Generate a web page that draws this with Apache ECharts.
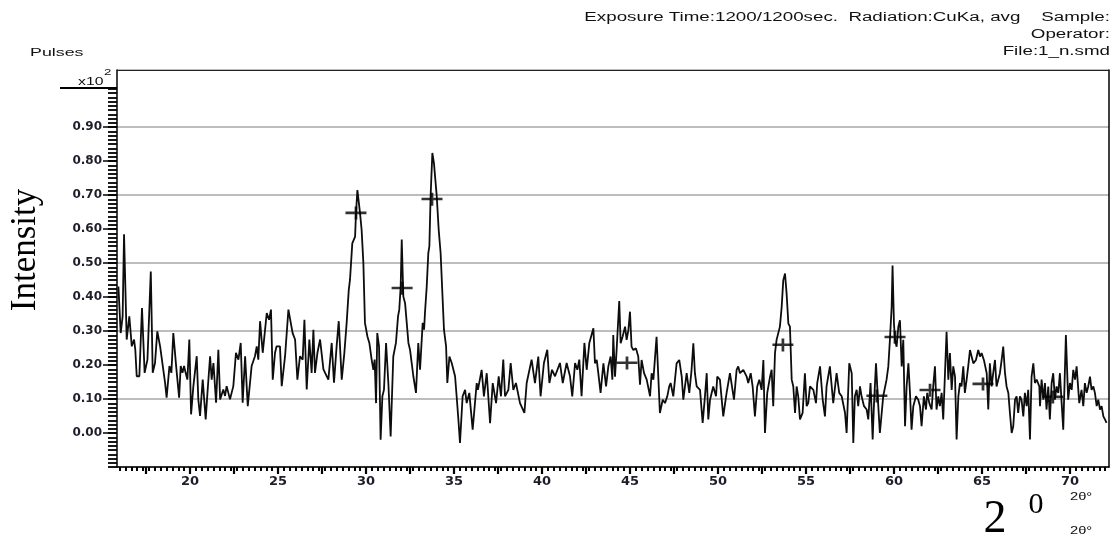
<!DOCTYPE html>
<html><head><meta charset="utf-8">
<script src="https://cdn.jsdelivr.net/npm/echarts@6/dist/echarts.min.js"></script>
<style>html,body{margin:0;padding:0;background:#fff}#c{width:1113px;height:538px}</style>
</head><body><div id="c"></div>
<script>
// 2θ positions (degrees) of the measured trace
const twoTheta = [
15.93,16.06,16.17,16.25,16.40,16.55,16.69,16.82,16.89,16.97,17.12,17.27,17.42,17.58,17.77,17.88,18.01,18.14,18.30,18.58,
18.67,18.83,18.94,19.05,19.21,19.38,19.47,19.57,19.66,19.75,19.85,19.96,20.06,20.19,20.38,20.47,20.57,20.72,20.89,20.99,
21.14,21.23,21.33,21.48,21.61,21.71,21.89,21.99,22.08,22.27,22.46,22.61,22.75,22.88,22.99,23.13,23.28,23.50,23.69,23.79,
23.88,23.98,24.13,24.36,24.49,24.60,24.70,24.83,24.92,25.11,25.21,25.40,25.59,25.83,25.97,26.10,26.25,26.40,26.50,26.63,
26.78,26.91,27.01,27.10,27.24,27.39,27.58,27.86,28.05,28.18,28.33,28.45,28.62,28.77,28.90,29.02,29.09,29.22,29.38,29.43,
29.51,29.66,29.75,29.85,29.94,30.08,30.19,30.32,30.42,30.49,30.57,30.64,30.74,30.83,30.93,31.02,31.14,31.27,31.40,31.55,
31.70,31.82,31.89,31.97,32.03,32.12,32.22,32.41,32.50,32.69,32.84,32.97,33.07,33.22,33.30,33.35,33.45,33.54,33.60,33.67,
33.77,33.86,34.02,34.13,34.24,34.43,34.55,34.62,34.74,34.87,35.06,35.15,35.25,35.34,35.49,35.63,35.72,35.87,36.06,36.29,
36.36,36.57,36.70,36.86,37.05,37.20,37.39,37.54,37.67,37.80,37.90,38.09,38.22,38.37,38.52,38.75,39.00,39.13,39.41,39.60,
39.79,39.92,40.11,40.30,40.42,40.57,40.74,41.02,41.18,41.40,41.59,41.72,41.88,42.01,42.12,42.25,42.41,42.54,42.69,42.92,
43.01,43.11,43.20,43.33,43.49,43.64,43.77,43.90,44.00,44.05,44.15,44.24,44.39,44.47,44.58,44.72,44.81,44.91,45.00,45.09,
45.19,45.34,45.47,45.57,45.66,45.80,45.95,46.14,46.23,46.33,46.51,46.70,46.86,46.99,47.12,47.23,47.31,47.46,47.65,47.80,
47.94,48.03,48.22,48.37,48.50,48.60,48.69,48.79,48.98,49.13,49.26,49.36,49.45,49.55,49.73,49.89,49.96,50.11,50.30,50.49,
50.68,50.78,50.91,51.06,51.15,51.25,51.44,51.63,51.72,51.86,51.97,52.10,52.23,52.35,52.48,52.58,52.67,52.80,52.96,53.05,
53.14,53.24,53.33,53.52,53.62,53.71,53.81,53.90,54.00,54.09,54.19,54.28,54.38,54.47,54.56,54.66,54.81,54.94,55.04,55.13,
55.23,55.42,55.57,55.64,55.80,55.95,56.08,56.17,56.36,56.55,56.74,56.89,57.03,57.22,57.31,57.46,57.60,57.69,57.78,57.88,
57.97,58.07,58.16,58.30,58.45,58.54,58.67,58.79,58.86,58.98,59.11,59.20,59.39,59.58,59.68,59.77,59.87,59.92,60.00,60.06,
60.15,60.25,60.34,60.44,60.53,60.63,60.72,60.82,60.91,61.00,61.10,61.25,61.38,61.48,61.57,61.70,61.82,61.89,62.01,62.14,
62.23,62.33,62.42,62.52,62.61,62.71,62.80,62.90,62.99,63.09,63.18,63.28,63.37,63.47,63.56,63.66,63.75,63.84,63.94,64.03,
64.13,64.22,64.32,64.51,64.66,64.79,64.89,64.98,65.11,65.27,65.36,65.45,65.55,65.64,65.74,65.83,66.02,66.12,66.21,66.31,
66.40,66.50,66.59,66.69,66.78,66.88,66.97,67.06,67.16,67.25,67.35,67.44,67.54,67.63,67.73,67.82,67.92,68.01,68.11,68.26,
68.30,68.39,68.49,68.58,68.67,68.77,68.86,68.96,69.05,69.15,69.24,69.34,69.43,69.53,69.62,69.77,69.90,70.00,70.10,70.19,
70.29,70.38,70.53,70.66,70.76,70.85,70.95,71.04,71.14,71.23,71.33,71.42,71.52,71.61,71.71,71.80,71.90,71.99,72.08
];
// intensity (x10^2 pulses) at each 2θ position
const intensity = [
0.431,0.294,0.343,0.585,0.275,0.343,0.255,0.275,0.245,0.167,0.167,0.368,0.177,0.216,0.475,0.177,0.206,0.299,0.255,0.148,
0.104,0.197,0.177,0.294,0.197,0.104,0.197,0.177,0.197,0.177,0.157,0.275,0.055,0.138,0.226,0.099,0.050,0.157,0.040,0.118,
0.226,0.157,0.206,0.089,0.245,0.099,0.128,0.109,0.138,0.099,0.138,0.236,0.216,0.265,0.089,0.226,0.079,0.197,0.226,0.255,
0.216,0.329,0.236,0.353,0.333,0.363,0.157,0.236,0.255,0.255,0.138,0.226,0.363,0.294,0.275,0.157,0.226,0.216,0.333,0.128,
0.275,0.177,0.304,0.177,0.236,0.275,0.187,0.157,0.265,0.148,0.255,0.329,0.157,0.236,0.324,0.421,0.451,0.558,0.578,0.646,
0.715,0.647,0.598,0.500,0.324,0.284,0.265,0.216,0.186,0.216,0.088,0.294,0.255,-0.020,0.108,0.127,0.265,0.147,-0.010,0.225,
0.265,0.343,0.363,0.431,0.569,0.402,0.382,0.265,0.245,0.167,0.118,0.265,0.186,0.324,0.304,0.353,0.431,0.529,0.549,0.696,
0.824,0.794,0.696,0.598,0.529,0.304,0.255,0.147,0.225,0.206,0.167,0.108,0.039,-0.029,0.108,0.127,0.088,0.118,0.010,0.147,
0.127,0.186,0.108,0.176,0.029,0.147,0.088,0.167,0.108,0.216,0.108,0.127,0.206,0.127,0.147,0.088,0.059,0.147,0.216,0.147,
0.225,0.108,0.206,0.245,0.147,0.186,0.167,0.206,0.147,0.206,0.167,0.108,0.206,0.186,0.216,0.108,0.265,0.186,0.265,0.308,
0.205,0.215,0.176,0.118,0.205,0.137,0.196,0.225,0.157,0.288,0.166,0.244,0.388,0.264,0.283,0.313,0.274,0.303,0.357,0.254,
0.244,0.249,0.225,0.142,0.215,0.176,0.157,0.108,0.176,0.157,0.283,0.059,0.098,0.088,0.108,0.137,0.147,0.108,0.205,0.215,
0.166,0.098,0.176,0.118,0.186,0.264,0.176,0.137,0.127,0.030,0.108,0.176,0.040,0.098,0.137,0.108,0.166,0.157,0.049,0.118,
0.176,0.176,0.098,0.186,0.196,0.176,0.186,0.166,0.147,0.176,0.137,0.049,0.137,0.157,0.127,0.215,0.000,0.118,0.166,0.186,
0.079,0.235,0.274,0.313,0.371,0.449,0.469,0.410,0.322,0.313,0.157,0.137,0.059,0.137,0.108,0.040,0.059,0.176,0.079,0.088,
0.137,0.127,0.088,0.147,0.196,0.098,0.049,0.137,0.196,0.088,0.176,0.118,0.108,0.059,0.000,0.205,0.176,-0.029,0.108,0.127,
0.079,0.137,0.108,0.079,0.069,0.040,0.147,-0.019,0.079,0.205,0.079,0.000,0.108,0.157,0.196,0.274,0.371,0.493,0.322,0.274,
0.254,0.313,0.332,0.196,0.274,0.020,0.137,0.205,0.118,0.010,0.079,0.108,0.098,0.079,0.020,0.108,0.069,0.118,0.088,0.069,
0.137,0.196,0.069,0.108,0.079,0.118,0.040,0.176,0.298,0.157,0.235,0.127,0.196,0.166,-0.019,0.108,0.147,0.137,0.196,0.118,
0.157,0.196,0.244,0.205,0.215,0.244,0.225,0.235,0.215,0.176,0.069,0.205,0.137,0.176,0.215,0.137,0.176,0.215,0.254,0.176,
0.137,0.118,0.059,0.000,0.020,0.098,0.108,0.059,0.108,0.098,0.049,0.118,0.079,0.127,-0.019,0.166,0.205,0.147,0.157,0.137,
0.079,0.157,0.098,0.147,0.069,0.137,0.040,0.147,0.176,0.098,0.137,0.118,0.176,0.088,0.010,0.288,0.098,0.147,0.127,0.186,
0.157,0.196,0.088,0.127,0.079,0.147,0.118,0.137,0.166,0.127,0.137,0.118,0.079,0.098,0.069,0.079,0.049,0.040,0.030
];
// identified peak markers (+)
const peakTwoTheta = [29.43, 32.05, 33.75, 44.83, 53.69, 59.03, 60.06, 62.05, 65.06, 69.03];
const peakIntensity = [0.647, 0.426, 0.688, 0.206, 0.259, 0.109, 0.282, 0.126, 0.144, 0.106];
// axis tick labels
const xLabelValues = [20, 25, 30, 35, 40, 45, 50, 55, 60, 65, 70];
const yLabelValues = [0.00, 0.10, 0.20, 0.30, 0.40, 0.50, 0.60, 0.70, 0.80, 0.90];

const X_MIN = 15.85, X_MAX = 72.22, Y_MIN = -0.1, Y_MAX = 1.068;

const xSmallTicks = [];
for (let k = 0; k <= 168; k++) xSmallTicks.push(+(16 + k / 3).toFixed(4));
const xMajorTicks = [];
for (let v = 17.5; v <= 72; v += 2.5) xMajorTicks.push(v);
const yLadder = [];
for (let k = 0; k <= 89; k++) yLadder.push(+(-0.1 + k * 0.0125).toFixed(4));

const lineData = twoTheta.map((t, i) => [t, intensity[i]]);
const peakData = peakTwoTheta.map((t, i) => [t, peakIntensity[i]]);

const labelFont = { fontFamily: 'DejaVu Sans', fontWeight: 'bold', color: '#1e1e2a' };
const chart = echarts.init(document.getElementById('c'), null, { renderer: 'canvas' });

function sText(x, y, text, size, align, sx, extra) {
  return Object.assign({
    type: 'text', x: x, y: y, scaleX: sx, z: 100,
    style: {
      text: text, font: size + 'px "Liberation Sans", Arial, sans-serif', fill: '#111',
      align: align, textAlign: align, verticalAlign: 'middle', textVerticalAlign: 'middle'
    }
  }, extra || {});
}

chart.setOption({
  animation: false,
  backgroundColor: '#fff',
  grid: { left: 117, right: 4, top: 70, bottom: 71, containLabel: false },
  xAxis: [
    {
      type: 'value', min: X_MIN, max: X_MAX, position: 'bottom',
      axisLine: { show: true, onZero: false, lineStyle: { color: '#000', width: 1.5 } },
      axisTick: { show: true, length: 4, customValues: xSmallTicks, lineStyle: { color: '#000', width: 2 } },
      axisLabel: Object.assign({ customValues: xLabelValues, fontSize: 13, margin: 8, formatter: v => String(Math.round(v)) }, labelFont),
      splitLine: { show: false }
    },
    {
      type: 'value', min: X_MIN, max: X_MAX, position: 'bottom',
      axisLine: { show: false, onZero: false },
      axisTick: { show: true, length: 7, customValues: xMajorTicks, lineStyle: { color: '#000', width: 2.2 } },
      axisLabel: { show: false }, splitLine: { show: false }
    },
    {
      type: 'value', min: X_MIN, max: X_MAX, position: 'top',
      axisLine: { show: true, onZero: false, lineStyle: { color: '#222', width: 1 } },
      axisTick: { show: false }, axisLabel: { show: false }, splitLine: { show: false }
    }
  ],
  yAxis: [
    {
      type: 'value', min: Y_MIN, max: Y_MAX, position: 'left',
      axisLine: { show: true, onZero: false, lineStyle: { color: '#000', width: 1.5 } },
      axisTick: { show: true, length: 14, customValues: yLabelValues, lineStyle: { color: '#000', width: 1.5 } },
      axisLabel: Object.assign({ customValues: yLabelValues, fontSize: 12, margin: 15, formatter: v => v.toFixed(2) }, labelFont),
      splitLine: { show: false }
    },
    {
      type: 'value', min: Y_MIN, max: Y_MAX, position: 'left',
      axisLine: { show: false, onZero: false },
      axisTick: { show: true, length: 9, customValues: yLadder, lineStyle: { color: '#000', width: 1.8 } },
      axisLabel: { show: false }, splitLine: { show: false }
    },
    {
      type: 'value', min: Y_MIN, max: Y_MAX, interval: 0.2, position: 'left',
      axisLine: { show: false }, axisTick: { show: false }, axisLabel: { show: false },
      splitLine: { show: true, lineStyle: { color: '#bdbdbd', width: 2 } }
    },
    {
      type: 'value', min: Y_MIN, max: Y_MAX, position: 'right',
      axisLine: { show: true, onZero: false, lineStyle: { color: '#000', width: 1.5 } },
      axisTick: { show: false }, axisLabel: { show: false }, splitLine: { show: false }
    }
  ],
  series: [
    {
      type: 'line', data: lineData, xAxisIndex: 0, yAxisIndex: 0,
      showSymbol: false, symbol: 'none', smooth: false, z: 3,
      lineStyle: { color: '#0d0d0d', width: 1.8 }
    },
    {
      type: 'scatter', data: peakData, xAxisIndex: 0, yAxisIndex: 0, z: 5,
      symbol: 'path://M0,5h20v2.6h-20z M8.7,0h2.6v13h-2.6z', symbolSize: [21, 13],
      itemStyle: { color: '#000' }
    }
  ],
  graphic: [
    sText(1110, 18, 'Exposure Time:1200/1200sec.  Radiation:CuKa, avg    Sample:', 12.5, 'right', 1.5),
    sText(1110, 35, 'Operator:', 12.5, 'right', 1.5),
    sText(1110, 52, 'File:1_n.smd', 12.5, 'right', 1.5),
    sText(30, 53, 'Pulses', 11.5, 'left', 1.55),
    sText(78, 82, 'x10', 10.5, 'left', 1.5),
    sText(104, 72, '2', 9.5, 'left', 1.4),
    { type: 'line', z: 100, shape: { x1: 60, y1: 88, x2: 117, y2: 88 }, style: { stroke: '#000', lineWidth: 2 } },
    {
      type: 'text', x: 26, y: 250, rotation: Math.PI / 2, z: 100,
      style: { text: 'Intensity', font: '35px "Liberation Serif", "Times New Roman", serif', fill: '#000',
        align: 'center', textAlign: 'center', verticalAlign: 'middle', textVerticalAlign: 'middle' }
    },
    {
      type: 'text', x: 995, y: 520, z: 100,
      style: { text: '2', font: '46px "Liberation Serif", "Times New Roman", serif', fill: '#000',
        align: 'center', textAlign: 'center', verticalAlign: 'middle', textVerticalAlign: 'middle' }
    },
    {
      type: 'text', x: 1036, y: 505, z: 100,
      style: { text: '0', font: '30px "Liberation Serif", "Times New Roman", serif', fill: '#000',
        align: 'center', textAlign: 'center', verticalAlign: 'middle', textVerticalAlign: 'middle' }
    },
    sText(1070, 497, '2θ°', 10.5, 'left', 1.4, {}),
    sText(1070, 531, '2θ°', 10.5, 'left', 1.4, {})
  ]
});
</script>
</body></html>
